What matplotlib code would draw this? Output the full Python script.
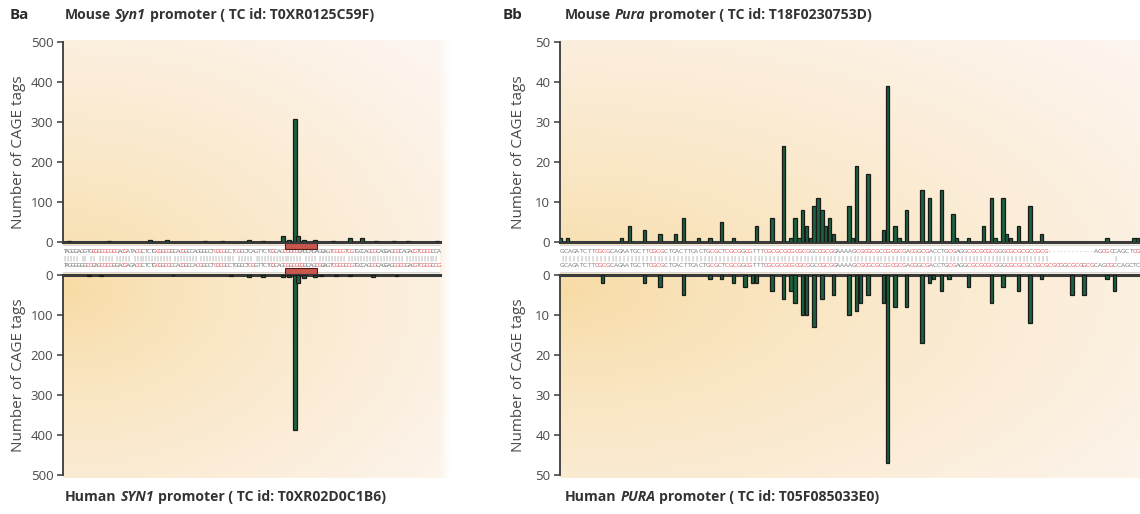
import numpy as np
import matplotlib
matplotlib.use("Agg")
import matplotlib.pyplot as plt
from matplotlib.patches import Rectangle

# ---------------- data ----------------
# Ba: Syn1 promoter (position in bp along the alignment, CAGE tag counts)
ba_mouse_pos = [2, 16, 30, 36, 49, 55, 64, 69, 76, 78, 80, 81, 83, 87, 93, 99, 103, 108, 114, 119, 129]
ba_mouse_tags = [3, 2, 4, 6, 3, 3, 4, 3, 15, 5, 307, 15, 6, 6, 3, 10, 10, 3, 2, 2, 3]
ba_human_pos = [9, 13, 38, 58, 64, 69, 76, 78, 80, 81, 83, 87, 89, 94, 99, 107, 115]
ba_human_tags = [2, 2, 1, 2, 4, 6, 5, 6, 388, 20, 8, 4, 2, 2, 3, 5, 2]
ba_tc_region = [76.5, 87.6]

# Bb: Pura promoter
bb_mouse_pos = [0, 2, 16, 18, 22, 26, 30, 32, 36, 39, 42, 45, 51, 55, 58, 60, 61, 62, 63, 64,
                65, 66, 67, 68, 69, 70, 71, 75, 76, 77, 80, 84, 85, 87, 88, 90, 94, 96, 99, 102,
                103, 106, 110, 112, 113, 115, 116, 117, 119, 122, 125, 142, 149, 150]
bb_mouse_tags = [1, 1, 1, 4, 3, 2, 2, 6, 1, 1, 5, 1, 4, 6, 24, 1, 6, 1, 8, 4,
                 1, 9, 11, 8, 4, 6, 2, 9, 1, 19, 17, 3, 39, 4, 1, 8, 13, 11, 13, 7,
                 1, 1, 4, 11, 1, 11, 2, 1, 4, 9, 2, 1, 1, 1]
bb_human_pos = [11, 22, 26, 32, 39, 42, 45, 48, 50, 51, 55, 58, 60, 61, 63, 64, 66, 68, 71, 75,
                77, 78, 80, 84, 85, 87, 90, 94, 96, 97, 99, 101, 106, 112, 115, 119, 122, 125, 133, 136,
                142, 144]
bb_human_tags = [2, 2, 3, 5, 1, 1, 2, 3, 2, 2, 4, 6, 4, 7, 10, 10, 13, 6, 5, 10,
                 9, 7, 5, 7, 47, 8, 8, 17, 2, 1, 4, 1, 3, 7, 3, 4, 12, 1, 5, 5,
                 1, 4]

ba_mouse_seq = ("TAGGGAGGTG" "CGGCGCGCGA" "CGATACGCTC" "TGCGGCGGCA" "CGGCCAGGGC"
                "CTCGCGCCTC" "GCCTCAGTTC" "TCGCAGCGGC" "GCAGCAGAGG" "AGTCGCGTCG"
                "TGCCAGCGCA" "GGAGCGCAGA" "CGTCGCGCCA")
ba_human_seq = ("TAGGGGGGCG" "CAGCGCGGGA" "CGAGACGCTC" "TGCGGCGCCA" "CGGCCACGGC"
                "CTCGCGCCTG" "GCCTCGGTTC" "TCGCAGCGGC" "GCGGCAGCGG" "AGTCGCGCCG"
                "TGCCAGCGCA" "GGAGCGCGGA" "CGTCGCGCCG")
bb_mouse_seq = ("GCAGATCTTC" "GCGCAGAATG" "CTTCGCGCTC" "ACTTCACTGC" "GCTCGCGGCG"
                "TTTCGCGCGC" "GCGCGGCCGC" "GGAAAAGCGC" "GCGCCGCGCG" "ACGGCGACCT"
                "GCGAGGCGCG" "CGCGGGCGCG" "CGCCGCG" "------------" "AGCGCCAGCTCG")
bb_human_seq = ("GCAGATCTTC" "GCGCAGAATG" "CTTCGCGCTC" "ACTTCACTGC" "GCTCGCGGCG"
                "TTTCGCGCGC" "GCGCGGCCGC" "GGAAAAGCGC" "GCGCCGCGCG" "ACGGCGACCT"
                "GCGAGGCGCG" "CGCGGGCGCG" "CGCCGCGCGCGGCGCGGCGC" "AGCGCCAGCTC")

ba_ticks = [0, 100, 200, 300, 400, 500]
bb_ticks = [0, 10, 20, 30, 40, 50]

# ---------------- style ----------------
W, H = 1140, 514
BAR_FC = "#1c6140"
BAR_EC = "#1a1a1a"
AX_C = "#3a3a3a"
TXT_C = "#4a4a4a"
RED = "#e2585c"
FONT = "Open Sans"

plt.rcParams["font.family"] = [FONT, "DejaVu Sans"]

fig = plt.figure(figsize=(W / 100, H / 100), dpi=100)
fig.patch.set_facecolor("white")


def rect(x0, y0, x1, y1):
    """pixel box (top-left origin) -> figure fraction rect"""
    return [x0 / W, 1 - y1 / H, (x1 - x0) / W, (y1 - y0) / H]


def background(x0, x1, y0, y1, rx_f, ry, fade):
    w, h = int(x1 - x0), int(y1 - y0)
    yy, xx = np.mgrid[0:h, 0:w].astype(float)
    cy = 290 - y0
    t = np.sqrt((xx / (rx_f * w)) ** 2 + ((yy - cy) / ry) ** 2)
    s = np.clip(t, 0, 1) ** 0.75
    c0 = np.array([247, 219, 163]) / 255.0
    c1 = np.array([253, 246, 242]) / 255.0
    img = np.zeros((h, w, 4))
    img[..., :3] = c0 * (1 - s[..., None]) + c1 * s[..., None]
    alpha = np.ones((h, w))
    if fade:
        alpha *= np.clip((w - xx) / fade, 0, 1)
    img[..., 3] = alpha
    bg = fig.add_axes(rect(x0, y0, x1, y1), zorder=0)
    bg.imshow(img, aspect="auto", interpolation="bilinear")
    bg.axis("off")


background(63, 450, 40, 478, 1.35, 360, 12)
background(560, 1140, 40, 478, 1.4, 380, 0)


def style_axis(ax, ticks, top):
    ax.set_facecolor("none")
    ax.set_ylim(0, ticks[-1])
    if not top:
        ax.invert_yaxis()
    ax.spines["right"].set_visible(False)
    ax.spines["left"].set_color(AX_C)
    ax.spines["left"].set_linewidth(1.3)
    if top:
        ax.spines["top"].set_visible(False)
        ax.spines["bottom"].set_color(AX_C)
        ax.spines["bottom"].set_linewidth(2.2)
    else:
        ax.spines["bottom"].set_visible(False)
        ax.spines["top"].set_color(AX_C)
        ax.spines["top"].set_linewidth(2.2)
    ax.set_xticks([])
    ax.set_yticks(ticks)
    ax.tick_params(axis="y", direction="out", length=4, width=1.1, color=AX_C,
                   labelsize=9.5, labelcolor=TXT_C, pad=3)


def panel(x0, x1, xmax, mouse_pos, mouse_tags, human_pos, human_tags, ticks,
          mseq, hseq, bar_w, label_x, tc=None):
    ax_t = fig.add_axes(rect(x0, 42, x1, 242), zorder=2)
    ax_b = fig.add_axes(rect(x0, 275, x1, 475), zorder=2)
    for ax, pos, vals, top in [(ax_t, mouse_pos, mouse_tags, True),
                               (ax_b, human_pos, human_tags, False)]:
        ax.bar(pos, vals, width=bar_w, color=BAR_FC, edgecolor=BAR_EC,
               linewidth=0.9, zorder=3)
        ax.set_xlim(0, xmax)
        style_axis(ax, ticks, top)
        ax.set_ylabel("Number of CAGE tags", fontsize=11, color=TXT_C)
        ax.yaxis.set_label_coords(label_x, 0.45 if top else 0.5)

    # sequence alignment strip
    st = fig.add_axes(rect(x0, 242, x1, 275), zorder=1)
    st.set_xlim(0, xmax)
    st.set_ylim(0, 1)
    st.axis("off")
    st.axhspan(0.09, 0.91, color="white", zorder=0)
    st.axhline(0.91, color="#d0d0d0", lw=0.6)
    st.axhline(0.09, color="#d0d0d0", lw=0.6)

    def cpg(seq, i):
        c = seq[i]
        if c == "C" and i + 1 < len(seq) and seq[i + 1] == "G":
            return True
        if c == "G" and i > 0 and seq[i - 1] == "C":
            return True
        return False

    step = xmax / max(len(mseq), len(hseq))
    for row_y, seq in [(0.70, mseq), (0.30, hseq)]:
        for i, c in enumerate(seq):
            col = RED if cpg(seq, i) else ("#aaaaaa" if c == "-" else "#7a7a7a")
            st.text((i + 0.5) * step, row_y, c, fontsize=4.3, color=col,
                    ha="center", va="center", family="DejaVu Sans", zorder=2)
    for i in range(min(len(mseq), len(hseq))):
        if mseq[i] == hseq[i] and mseq[i] != "-":
            st.text((i + 0.5) * step, 0.50, "|", fontsize=4.3, color="#8a8a8a",
                    ha="center", va="center", family="DejaVu Sans", zorder=2)
    if tc is not None:
        for yb in [(0.80, 0.955), (0.045, 0.20)]:
            st.add_patch(Rectangle((tc[0], yb[0]), tc[1] - tc[0], yb[1] - yb[0],
                                   facecolor="#c8584e", edgecolor="#5a1a14",
                                   linewidth=0.8, zorder=3))
    return ax_t, ax_b


panel(63, 440, 130, ba_mouse_pos, ba_mouse_tags, ba_human_pos, ba_human_tags,
      ba_ticks, ba_mouse_seq, ba_human_seq, 1.35, -0.098, tc=ba_tc_region)
panel(560, 1140, 150.6, bb_mouse_pos, bb_mouse_tags, bb_human_pos, bb_human_tags,
      bb_ticks, bb_mouse_seq, bb_human_seq, 0.9, -0.059)

# ---------------- titles ----------------
renderer = fig.canvas.get_renderer()


def title(x_px, y_px, parts, size=10.1):
    x = x_px
    gap = 0.27 * size * 1.389
    for s, stl in parts:
        t = fig.text(x / W, 1 - y_px / H, s, fontsize=size, fontweight="bold",
                     fontstyle=stl, color="#333333", va="center", ha="left")
        bb = t.get_window_extent(renderer)
        x = bb.x1 + gap


fig.text(10 / W, 1 - 15 / H, "Ba", fontsize=11, fontweight="bold", color="#2a2a2a",
         va="center", ha="left")
fig.text(503 / W, 1 - 15 / H, "Bb", fontsize=11, fontweight="bold", color="#2a2a2a",
         va="center", ha="left")
title(65, 15, [("Mouse", "normal"), ("Syn1", "italic"), ("promoter ( TC id: T0XR0125C59F)", "normal")])
title(65, 497, [("Human", "normal"), ("SYN1", "italic"), ("promoter ( TC id: T0XR02D0C1B6)", "normal")])
title(565, 15, [("Mouse", "normal"), ("Pura", "italic"), ("promoter ( TC id: T18F0230753D)", "normal")])
title(565, 497, [("Human", "normal"), ("PURA", "italic"), ("promoter ( TC id: T05F085033E0)", "normal")])

fig.savefig("out.png", dpi=100, facecolor="white")
